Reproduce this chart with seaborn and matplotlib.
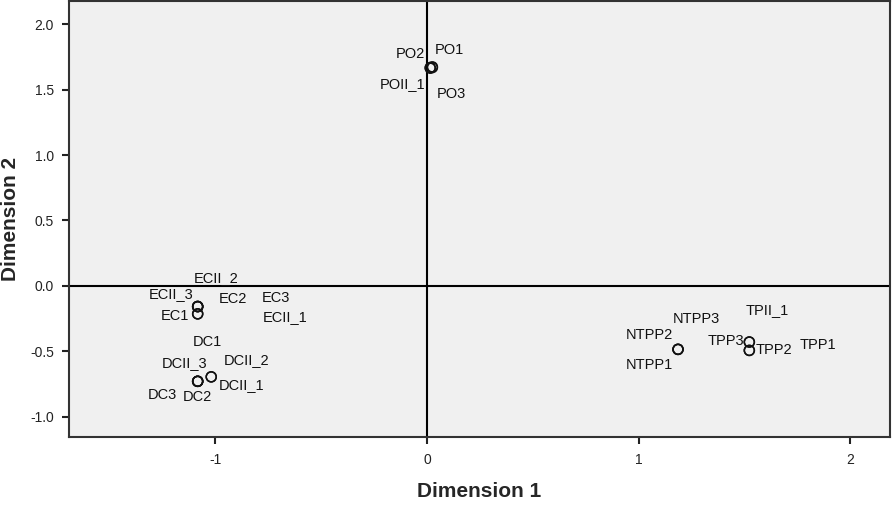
import pandas as pd
import seaborn as sns
import matplotlib.pyplot as plt

# object points, one per label
labels = ['PO1', 'PO2', 'PO3', 'POII_1',
          'ECII_2', 'ECII_3', 'EC2', 'EC3', 'EC1', 'ECII_1',
          'DC1', 'DCII_3', 'DC3', 'DC2', 'DCII_2', 'DCII_1',
          'NTPP3', 'NTPP2', 'NTPP1',
          'TPII_1', 'TPP3', 'TPP2', 'TPP1']
dim1 = [0.025, 0.015, 0.025, 0.015,
        -1.084, -1.084, -1.084, -1.084, -1.084, -1.084,
        -1.084, -1.084, -1.084, -1.084, -1.020, -1.020,
        1.186, 1.186, 1.186,
        1.523, 1.523, 1.523, 1.523]
dim2 = [1.673, 1.668, 1.668, 1.663,
        -0.157, -0.157, -0.157, -0.157, -0.213, -0.213,
        -0.728, -0.728, -0.728, -0.728, -0.694, -0.694,
        -0.484, -0.484, -0.484,
        -0.428, -0.428, -0.492, -0.492]

# label placement around each point, in pixels (dx, dy up)
label_offsets = {
    'PO1': (17, 17), 'PO2': (-20, 14), 'PO3': (19, -26), 'POII_1': (-28, -16),
    'ECII_2': (18, 29), 'ECII_3': (-27, 13), 'EC2': (35, 8), 'EC3': (78, 9),
    'EC1': (-23, -2), 'ECII_1': (87, -3),
    'DC1': (10, 39), 'DCII_3': (-13, 18), 'DC3': (-35, -14), 'DC2': (0, -16),
    'DCII_2': (35, 17), 'DCII_1': (30, -8),
    'NTPP3': (18, 30), 'NTPP2': (-29, 14), 'NTPP1': (-29, -16),
    'TPII_1': (18, 32), 'TPP3': (-23, 1), 'TPP2': (25, 0), 'TPP1': (69, 5),
}

df = pd.DataFrame({'label': labels, 'Dimension 1': dim1, 'Dimension 2': dim2})

sns.set_style('white')
plt.rcParams['font.family'] = ['Liberation Sans', 'DejaVu Sans']

fig = plt.figure(figsize=(8.92, 5.08), dpi=100)
ax = fig.add_axes([0.0774, 0.1388, 0.9204, 0.8592])
ax.set_facecolor('#f0f0f0')

ax.axhline(0, color='black', lw=1.5, zorder=1)
ax.axvline(0, color='black', lw=1.5, zorder=1)

sns.scatterplot(data=df, x='Dimension 1', y='Dimension 2', ax=ax,
                marker='o', s=52, facecolors='none', edgecolor='#111111',
                linewidth=1.1, zorder=3)

for _, r in df.iterrows():
    dx, dy = label_offsets[r['label']]
    ax.annotate(r['label'], (r['Dimension 1'], r['Dimension 2']),
                xytext=(dx, dy), textcoords='offset pixels',
                ha='center', va='center', fontsize=10.5, color='#111111')

ax.set_xlim(-1.692, 2.188)
ax.set_ylim(-1.157, 2.176)
ax.set_xticks([-1, 0, 1, 2])
ax.set_xticklabels(['-1', '0', '1', '2'])
ax.set_yticks([-1.0, -0.5, 0.0, 0.5, 1.0, 1.5, 2.0])
ax.set_yticklabels(['-1.0', '-0.5', '0.0', '0.5', '1.0', '1.5', '2.0'])
ax.tick_params(direction='out', length=5, width=1.5, labelsize=10,
               colors='#222222', bottom=True, left=True, pad=6)

for sp in ax.spines.values():
    sp.set_color('#333333')
    sp.set_linewidth(1.5)

ax.set_xlabel('Dimension 1', fontsize=15, fontweight='bold', labelpad=11)
ax.set_ylabel('Dimension 2', fontsize=15, fontweight='bold', labelpad=7)

fig.savefig('out.png', dpi=100)
